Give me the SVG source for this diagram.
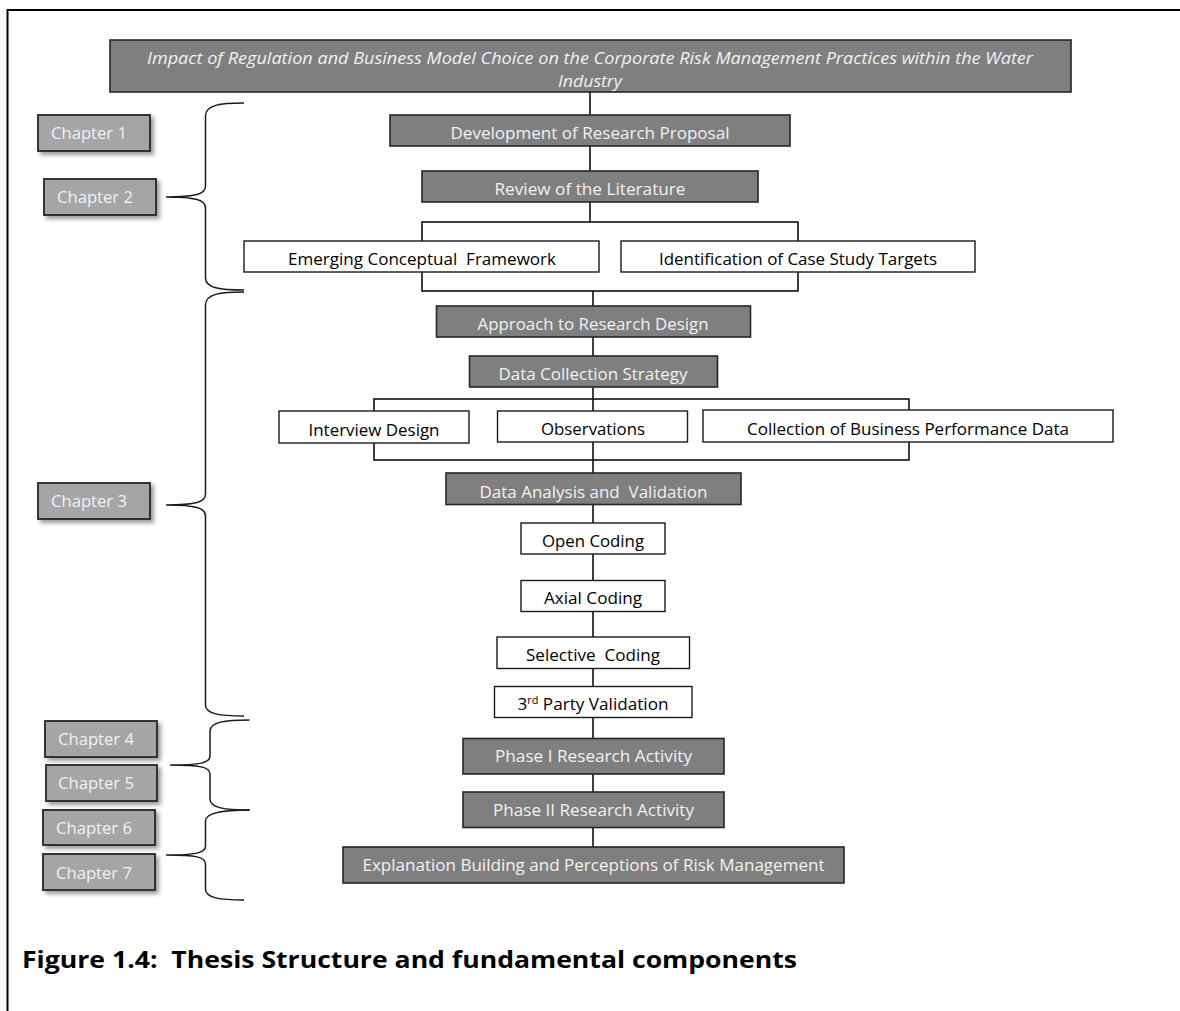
<svg xmlns="http://www.w3.org/2000/svg" width="1180" height="1011" viewBox="0 0 1180 1011">
  <defs>
    <filter id="softShadow" x="-20%" y="-30%" width="150%" height="180%">
      <feDropShadow dx="3" dy="3" stdDeviation="2.2" flood-color="#000" flood-opacity="0.4"/>
    </filter>
  </defs>
  <style>
    .frame { fill: none; stroke: #000; stroke-width: 2; }
    .link { fill: none; stroke: #000; stroke-width: 1.5; }
    .brace { fill: none; stroke: #1a1a1a; stroke-width: 1.5; }
    .dark rect { fill: #7f7f7f; stroke: #262626; stroke-width: 1.6; }
    .light rect { fill: #fff; stroke: #1a1a1a; stroke-width: 1.4; }
    .chap rect { fill: #a5a5a5; stroke: #262626; stroke-width: 1.8; filter: url(#softShadow); }
    text { font-family: "Open Sans", Lato, "Liberation Sans", sans-serif; font-size: 16.5px; }
    .dark text, .chap text { fill: #f2f2f2; text-anchor: middle; }
    .chap text { text-anchor: start; }
    .light text { fill: #000; text-anchor: middle; }
    .title text { font-style: italic; font-size: 17px; }
    .caption { font-weight: bold; font-size: 24px; fill: #000; }
  </style>

  <!-- page frame (left and top edges) -->
  <path class="frame" d="M7.5,1011 V10 H1180"/>

  <!-- connectors -->
  <g id="connectors">
    <!-- upper spine -->
    <path class="link" d="M590,92 V222"/>
    <!-- fork to the two literature outputs -->
    <path class="link" d="M422,241 V222 H798 V241"/>
    <path class="link" d="M422,272 V291 H798 V272"/>
    <!-- lower spine -->
    <path class="link" d="M593,291 V847"/>
    <!-- fork to the data collection methods -->
    <path class="link" d="M374,411 V399 H909 V410"/>
    <path class="link" d="M374,443 V460 H909 V442"/>
  </g>

  <!-- curly braces grouping the chapters -->
  <g id="braces">
    <path class="brace" d="M244,103 C220,103 205.5,105 205.5,116 L205.5,186 C205.5,194 196,197 166,197 C196,197 205.5,200 205.5,208 L205.5,278 C205.5,288 220,290 244,290"/>
    <path class="brace" d="M244,292 C220,292 205.5,294 205.5,305 L205.5,494 C205.5,502 196,505 166,505 C196,505 205.5,508 205.5,516 L205.5,705 C205.5,714 220,716 244,716"/>
    <path class="brace" d="M249.5,720 C225,720 210,722 210,731 L210,756 C210,763 200,765 170,765 C200,765 210,767 210,774 L210,799 C210,808 225,810 249.5,810"/>
    <path class="brace" d="M249.5,810 C225,810 205.5,812 205.5,821 L205.5,846 C205.5,853 196,855 166,855 C196,855 205.5,857 205.5,864 L205.5,889 C205.5,898 220,900 244,900"/>
  </g>

  <!-- title -->
  <g id="title" class="dark title">
    <rect x="110" y="40" width="961" height="52"/>
    <text x="590" y="64" textLength="886" lengthAdjust="spacingAndGlyphs">Impact of Regulation and Business Model Choice on the Corporate Risk Management Practices within the Water</text>
    <text x="590" y="87" textLength="64" lengthAdjust="spacingAndGlyphs">Industry</text>
  </g>

  <!-- chapter labels -->
  <g id="chapter1" class="chap">
    <rect x="38" y="115" width="112" height="36"/>
    <text x="51" y="139" textLength="76" lengthAdjust="spacingAndGlyphs">Chapter 1</text>
  </g>
  <g id="chapter2" class="chap">
    <rect x="44" y="179" width="112" height="36"/>
    <text x="57" y="203" textLength="76" lengthAdjust="spacingAndGlyphs">Chapter 2</text>
  </g>
  <g id="chapter3" class="chap">
    <rect x="38" y="483" width="112" height="36"/>
    <text x="51" y="507" textLength="76" lengthAdjust="spacingAndGlyphs">Chapter 3</text>
  </g>
  <g id="chapter4" class="chap">
    <rect x="45" y="721" width="112" height="36"/>
    <text x="58" y="745" textLength="76" lengthAdjust="spacingAndGlyphs">Chapter 4</text>
  </g>
  <g id="chapter5" class="chap">
    <rect x="46" y="765" width="111" height="36"/>
    <text x="58" y="789" textLength="76" lengthAdjust="spacingAndGlyphs">Chapter 5</text>
  </g>
  <g id="chapter6" class="chap">
    <rect x="43" y="810" width="112" height="35"/>
    <text x="56" y="834" textLength="76" lengthAdjust="spacingAndGlyphs">Chapter 6</text>
  </g>
  <g id="chapter7" class="chap">
    <rect x="43" y="854" width="112" height="36"/>
    <text x="56" y="878.5" textLength="76" lengthAdjust="spacingAndGlyphs">Chapter 7</text>
  </g>

  <!-- process steps -->
  <g id="proposal" class="dark">
    <rect x="390" y="115" width="400" height="31"/>
    <text x="590" y="138.5" textLength="279" lengthAdjust="spacingAndGlyphs">Development of Research Proposal</text>
  </g>
  <g id="literature" class="dark">
    <rect x="422" y="171" width="336" height="31"/>
    <text x="590" y="195" textLength="191" lengthAdjust="spacingAndGlyphs">Review of the Literature</text>
  </g>
  <g id="framework" class="light">
    <rect x="244" y="241" width="355" height="31"/>
    <text x="422" y="265" textLength="268" lengthAdjust="spacingAndGlyphs" xml:space="preserve">Emerging Conceptual  Framework</text>
  </g>
  <g id="targets" class="light">
    <rect x="621" y="241" width="354" height="31"/>
    <text x="798" y="265" textLength="278" lengthAdjust="spacingAndGlyphs">Identification of Case Study Targets</text>
  </g>
  <g id="design" class="dark">
    <rect x="436.5" y="306" width="314" height="31"/>
    <text x="593" y="329.5" textLength="231" lengthAdjust="spacingAndGlyphs">Approach to Research Design</text>
  </g>
  <g id="strategy" class="dark">
    <rect x="469.5" y="356" width="248" height="31"/>
    <text x="593" y="379.5" textLength="189" lengthAdjust="spacingAndGlyphs">Data Collection Strategy</text>
  </g>
  <g id="interview" class="light">
    <rect x="279" y="411" width="190" height="32"/>
    <text x="374" y="435.5" textLength="131" lengthAdjust="spacingAndGlyphs">Interview Design</text>
  </g>
  <g id="observations" class="light">
    <rect x="497.5" y="411" width="190" height="31"/>
    <text x="593" y="435" textLength="104" lengthAdjust="spacingAndGlyphs">Observations</text>
  </g>
  <g id="performance" class="light">
    <rect x="703" y="410" width="410" height="32"/>
    <text x="908" y="435" textLength="322" lengthAdjust="spacingAndGlyphs">Collection of Business Performance Data</text>
  </g>
  <g id="analysis" class="dark">
    <rect x="446" y="473" width="295" height="31.5"/>
    <text x="593.5" y="497.5" textLength="228" lengthAdjust="spacingAndGlyphs" xml:space="preserve">Data Analysis and  Validation</text>
  </g>
  <g id="open-coding" class="light">
    <rect x="521" y="523" width="144" height="31"/>
    <text x="593" y="546.5" textLength="102" lengthAdjust="spacingAndGlyphs">Open Coding</text>
  </g>
  <g id="axial-coding" class="light">
    <rect x="521" y="580.5" width="144" height="31"/>
    <text x="593" y="604" textLength="98" lengthAdjust="spacingAndGlyphs">Axial Coding</text>
  </g>
  <g id="selective-coding" class="light">
    <rect x="497" y="637" width="192.5" height="31.5"/>
    <text x="593" y="661" textLength="134" lengthAdjust="spacingAndGlyphs" xml:space="preserve">Selective  Coding</text>
  </g>
  <g id="validation" class="light">
    <rect x="494.5" y="686.5" width="197.5" height="31"/>
    <text x="593" y="709.5" textLength="151" lengthAdjust="spacingAndGlyphs">3<tspan font-size="10.5" dy="-6">rd</tspan><tspan dy="6"> Party Validation</tspan></text>
  </g>
  <g id="phase1" class="dark">
    <rect x="463" y="738.5" width="261" height="35.5"/>
    <text x="593.5" y="762" textLength="197" lengthAdjust="spacingAndGlyphs">Phase I Research Activity</text>
  </g>
  <g id="phase2" class="dark">
    <rect x="463" y="792" width="261" height="35.5"/>
    <text x="593.5" y="816" textLength="201" lengthAdjust="spacingAndGlyphs">Phase II Research Activity</text>
  </g>
  <g id="explanation" class="dark">
    <rect x="343" y="847" width="501" height="36"/>
    <text x="593.5" y="870.5" textLength="462" lengthAdjust="spacingAndGlyphs">Explanation Building and Perceptions of Risk Management</text>
  </g>

  <!-- caption -->
  <text class="caption" x="22" y="968" textLength="775" lengthAdjust="spacingAndGlyphs" xml:space="preserve">Figure 1.4:  Thesis Structure and fundamental components</text>
</svg>
